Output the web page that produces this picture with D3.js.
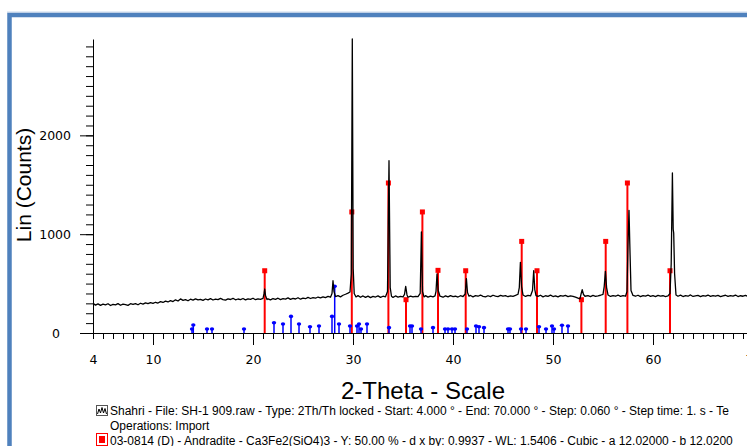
<!DOCTYPE html>
<html><head><meta charset="utf-8">
<script src="https://cdn.jsdelivr.net/npm/d3@7"></script>
<style>body{margin:0;background:#fff;} svg{display:block;}</style>
</head><body>
<svg id="chart" width="747" height="446"></svg>
<script>
// Measured diffraction pattern: [2-theta, counts]
const pattern = [
[4.00,300],[4.25,282],[4.50,295],[4.75,280],[5.00,292],[5.25,285],[5.50,296],[5.75,278],[6.00,290],[6.25,284],
[6.50,297],[6.75,281],[7.00,293],[7.25,287],[7.50,280],[7.75,296],[8.00,289],[8.25,298],[8.50,286],[8.75,301],
[9.00,292],[9.25,305],[9.50,297],[9.75,308],[10.00,300],[10.25,311],[10.50,303],[10.75,318],[11.00,309],[11.25,322],
[11.50,314],[11.75,328],[12.00,318],[12.25,336],[12.50,324],[12.75,345],[13.00,330],[13.25,338],[13.50,326],[13.75,342],
[14.00,333],[14.25,346],[14.50,335],[14.75,341],[15.00,330],[15.25,344],[15.50,336],[15.75,348],[16.00,334],[16.25,343],
[16.50,337],[16.75,350],[17.00,338],[17.25,332],[17.50,345],[17.75,339],[18.00,351],[18.25,336],[18.50,344],[18.75,338],
[19.00,349],[19.25,335],[19.50,346],[19.75,340],[20.00,352],[20.25,337],[20.50,345],[20.75,341],[21.00,350],[21.10,395],
[21.17,445],[21.25,380],[21.40,338],[21.50,346],[21.75,335],[22.00,349],[22.25,341],[22.50,352],[22.75,338],[23.00,347],
[23.25,343],[23.50,355],[23.75,340],[24.00,350],[24.25,344],[24.50,357],[24.75,342],[25.00,353],[25.25,347],[25.50,360],
[25.75,349],[26.00,358],[26.25,352],[26.50,364],[26.75,355],[27.00,366],[27.25,358],[27.50,370],[27.75,362],[27.90,400],
[28.00,529],[28.10,420],[28.25,368],[28.50,378],[28.75,366],[29.00,382],[29.25,392],[29.50,404],[29.70,415],[29.83,600],
[29.93,2976],[30.02,650],[30.12,400],[30.30,365],[30.50,378],[30.75,362],[31.00,375],[31.25,360],[31.50,373],[31.75,358],
[32.00,370],[32.25,364],[32.50,376],[32.75,361],[33.00,372],[33.25,366],[33.45,420],[33.60,1744],[33.72,460],[33.85,372],
[34.00,360],[34.25,375],[34.50,363],[34.75,371],[35.00,366],[35.15,390],[35.27,472],[35.40,385],[35.50,362],[35.75,374],
[36.00,365],[36.25,371],[36.50,368],[36.72,400],[36.84,1022],[36.95,420],[37.10,365],[37.25,378],[37.50,363],[37.75,374],
[38.00,366],[38.20,375],[38.30,420],[38.40,597],[38.52,430],[38.70,372],[39.00,362],[39.25,376],[39.50,365],[39.75,378],
[40.00,368],[40.25,372],[40.50,364],[40.75,377],[41.00,369],[41.22,395],[41.34,550],[41.45,410],[41.60,373],[41.75,380],
[42.00,366],[42.25,378],[42.50,372],[42.75,384],[43.00,370],[43.25,365],[43.50,377],[43.75,368],[44.00,382],[44.25,374],
[44.50,369],[44.75,380],[45.00,372],[45.25,378],[45.50,367],[45.75,376],[46.00,371],[46.25,380],[46.50,392],[46.63,460],
[46.74,715],[46.86,470],[47.00,385],[47.25,370],[47.50,381],[47.75,375],[47.95,430],[48.07,630],[48.18,440],[48.30,378],
[48.50,370],[48.75,382],[49.00,366],[49.25,377],[49.50,371],[49.75,383],[50.00,369],[50.25,376],[50.50,365],[50.75,378],
[51.00,372],[51.25,380],[51.50,368],[51.75,375],[52.00,370],[52.25,362],[52.50,352],[52.70,345],[52.82,400],[52.92,438],
[53.05,390],[53.20,372],[53.50,378],[53.75,368],[54.00,380],[54.25,371],[54.50,376],[54.75,382],[55.00,390],[55.12,470],
[55.24,624],[55.36,460],[55.50,385],[55.75,370],[56.00,379],[56.25,372],[56.50,384],[56.75,370],[57.00,378],[57.25,372],
[57.40,420],[57.50,900],[57.60,1241],[57.68,900],[57.80,430],[58.00,380],[58.25,372],[58.50,382],[58.75,368],[59.00,379],
[59.25,374],[59.50,384],[59.75,370],[60.00,378],[60.25,368],[60.50,381],[60.75,373],[61.00,377],[61.25,369],[61.50,375],
[61.70,400],[61.82,700],[61.94,1619],[62.02,1050],[62.07,1012],[62.16,600],[62.30,385],[62.50,372],[62.75,383],[63.00,369],
[63.25,378],[63.50,372],[63.75,385],[64.00,370],[64.25,376],[64.50,381],[64.75,368],[65.00,379],[65.25,373],[65.50,384],
[65.75,370],[66.00,378],[66.25,372],[66.50,380],[66.75,368],[67.00,376],[67.25,382],[67.50,370],[67.75,378],[68.00,373],
[68.25,384],[68.50,369],[68.75,377],[69.00,372],[69.25,380],[69.50,370],[69.75,378],[70.00,374]
];

// Reference phase 03-0814 Andradite (red sticks)
const andraditePos    = [21.17, 29.88, 33.54, 35.30, 36.94, 38.50, 41.27, 46.87, 48.40, 52.84, 55.27, 57.44, 61.70];
const andraditeCounts = [  630,  1225,  1518,   337,  1225,   634,   630,   927,   630,   337,   927,  1518,   630];

// Second reference phase (blue sticks)
const phase2Pos    = [13.9, 14.03, 15.4, 15.9, 19.1, 22.1, 23.0, 23.8, 24.6, 25.7, 26.6, 27.9, 28.17, 28.6, 29.7,
                      30.4, 30.6, 30.8, 31.4, 33.6, 35.7, 35.9, 36.8, 38.0, 39.2, 39.5, 39.9, 40.2, 41.4, 42.3,
                      42.6, 43.1, 45.5, 45.7, 46.8, 47.3, 48.6, 49.3, 49.9, 50.1, 50.9, 51.5];
const phase2Counts = [40, 81, 40, 40, 40, 104, 91, 168, 91, 64, 71, 168, 472, 91, 71,
                      71, 91, 40, 91, 54, 71, 71, 40, 54, 40, 40, 40, 40, 40, 71,
                      64, 54, 40, 40, 40, 40, 64, 40, 71, 40, 78, 71];

const xTickLabels = [4, 10, 20, 30, 40, 50, 60, 70];
const yTickLabels = [0, 1000, 2000];
const xTitle = "2-Theta - Scale";
const yTitle = "Lin (Counts)";
const legendLines = [
  "Shahri - File: SH-1 909.raw - Type: 2Th/Th locked - Start: 4.000 ° - End: 70.000 ° - Step: 0.060 ° - Step time: 1. s - Te",
  "Operations: Import",
  "03-0814 (D) - Andradite - Ca3Fe2(SiO4)3 - Y: 50.00 % - d x by: 0.9937 - WL: 1.5406 - Cubic - a 12.02000 - b 12.0200"
];

const svg = d3.select('#chart');
const x = d3.scaleLinear().domain([4, 70]).range([93, 753]);
const y = d3.scaleLinear().domain([0, 2975]).range([333, 39]);

// frame
svg.append('line').attr('x1', 7).attr('x2', 747).attr('y1', 12).attr('y2', 12)
  .attr('stroke', '#c9d8ec').attr('stroke-width', 1);
svg.append('rect').attr('x', 9.5).attr('y', 15).attr('width', 800).attr('height', 600)
  .attr('fill', 'none').attr('stroke', '#4f81bd').attr('stroke-width', 4.5);

// red sticks
const red = svg.append('g');
andraditePos.forEach((p, i) => {
  red.append('line').attr('x1', x(p)).attr('x2', x(p)).attr('y1', y(0)).attr('y2', y(andraditeCounts[i]))
    .attr('stroke', '#ff0000').attr('stroke-width', 2);
  red.append('rect').attr('x', x(p) - 2.5).attr('y', y(andraditeCounts[i]) - 2.5).attr('width', 5).attr('height', 5)
    .attr('fill', '#ff0000');
});

// blue sticks
const blue = svg.append('g');
phase2Pos.forEach((p, i) => {
  blue.append('line').attr('x1', x(p)).attr('x2', x(p)).attr('y1', y(0)).attr('y2', y(phase2Counts[i]))
    .attr('stroke', '#0000ff').attr('stroke-width', 1.5);
  blue.append('ellipse').attr('cx', x(p)).attr('cy', y(phase2Counts[i])).attr('rx', 2.2).attr('ry', 1.8)
    .attr('fill', '#0000ff');
});

// pattern line
svg.append('path').datum(pattern)
  .attr('d', d3.line().x(d => x(d[0])).y(d => y(d[1])))
  .attr('fill', 'none').attr('stroke', '#000').attr('stroke-width', 1.3).attr('stroke-linejoin', 'round');

// x axis: minor + major
const tickFont = '"DejaVu Sans", sans-serif';
const tickSize = 12.5;
const xMinor = svg.append('g').attr('transform', `translate(0,${y(0)})`)
  .call(d3.axisBottom(x).tickValues(d3.range(4, 71, 1)).tickSize(6).tickSizeOuter(0).tickFormat(''));
xMinor.select('.domain').attr('stroke', '#000');
const xMajor = svg.append('g').attr('transform', `translate(0,${y(0)})`)
  .call(d3.axisBottom(x).tickValues(xTickLabels).tickSize(12).tickSizeOuter(0).tickPadding(10).tickFormat(d3.format('d')));
xMajor.select('.domain').remove();
xMajor.selectAll('.tick line').filter(d => d === 4).attr('y2', 6);
xMajor.selectAll('text').attr('font-family', tickFont).attr('font-size', tickSize).attr('fill', '#000');

// y axis
const yMinor = svg.append('g').attr('transform', `translate(${x(4)},0)`)
  .call(d3.axisLeft(y).tickValues(d3.range(0, 3000, 100)).tickSize(7).tickSizeOuter(0).tickFormat(''));
yMinor.select('.domain').attr('stroke', '#000');
const yMajor = svg.append('g').attr('transform', `translate(${x(4)},0)`)
  .call(d3.axisLeft(y).tickValues(yTickLabels).tickSize(13).tickSizeOuter(0).tickPadding(9).tickFormat(d3.format('d')));
yMajor.select('.domain').remove();
yMajor.selectAll('text').attr('font-family', tickFont).attr('font-size', tickSize).attr('fill', '#000');
yMajor.selectAll('.tick text').filter(d => d === 0).attr('dx', -11);

// titles
svg.append('text').attr('x', 423).attr('y', 399).attr('text-anchor', 'middle')
  .attr('font-family', '"Liberation Sans", Arial, sans-serif').attr('font-size', 24).text(xTitle);
svg.append('text').attr('transform', 'translate(31,185) rotate(-90)').attr('text-anchor', 'middle')
  .attr('font-family', '"Liberation Sans", Arial, sans-serif').attr('font-size', 21).text(yTitle);

// legend
const leg = svg.append('g');
const legY = [415, 430, 444.5];
legendLines.forEach((t, i) => {
  leg.append('text').attr('x', 110).attr('y', legY[i])
    .attr('font-family', '"Liberation Sans", Arial, sans-serif').attr('font-size', 12).attr('fill', '#000').text(t);
});
// legend icon 1: pattern symbol
leg.append('rect').attr('x', 96.5).attr('y', 405.5).attr('width', 11).attr('height', 10)
  .attr('fill', 'none').attr('stroke', '#555').attr('stroke-width', 1);
leg.append('path').attr('d', 'M97.5,414 L99,409 L100.5,413 L102,407.5 L103.5,413 L105,408.5 L106.5,414')
  .attr('fill', 'none').attr('stroke', '#000').attr('stroke-width', 1);
// legend icon 2: red box
leg.append('rect').attr('x', 96.5).attr('y', 433.5).attr('width', 11).attr('height', 12)
  .attr('fill', 'none').attr('stroke', '#ff0000').attr('stroke-width', 1);
leg.append('rect').attr('x', 99).attr('y', 436).attr('width', 6).attr('height', 7).attr('fill', '#ff0000');
</script>
</body></html>
